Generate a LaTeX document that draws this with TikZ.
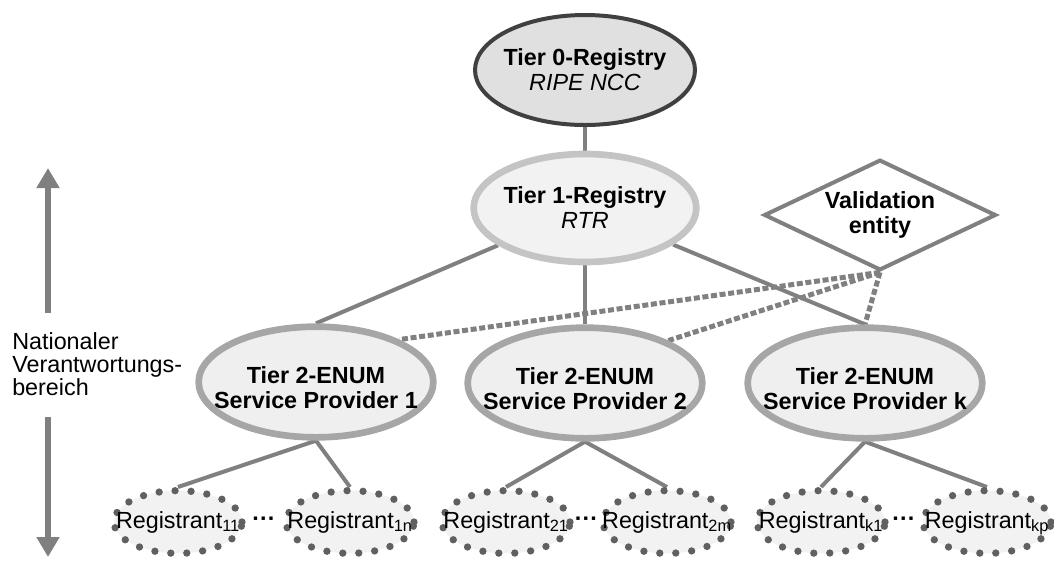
\documentclass[tikz,border=0pt]{standalone}
\usepackage{fontspec}
\setmainfont{Liberation Sans}
\usetikzlibrary{shapes.geometric,arrows.meta,calc,backgrounds}
\definecolor{conncol}{HTML}{808080}
\definecolor{tzeroborder}{HTML}{404040}
\definecolor{tzerofill}{HTML}{E0E0E0}
\definecolor{toneborder}{HTML}{C4C4C4}
\definecolor{tonefill}{HTML}{F2F2F2}
\definecolor{spborder}{HTML}{A6A6A6}
\definecolor{spfill}{HTML}{EFEFEF}
\definecolor{regdot}{HTML}{606060}
\definecolor{regfill}{HTML}{F2F2F2}
\begin{document}
\begin{tikzpicture}[x=0.75pt,y=-0.75pt,
  txt/.style={font=\fontsize{17.5}{18.75}\selectfont, align=center, inner sep=0pt},
  regtxt/.style={font=\fontsize{17.5}{18.75}\selectfont, inner sep=0pt, text height=13pt, text depth=4pt},
  base/.style={ellipse, inner sep=0pt},
  tierzero/.style={base, draw=tzeroborder, fill=tzerofill, line width=3pt, minimum width=165pt, minimum height=82.5pt},
  tierone/.style={base, draw=toneborder, fill=tonefill, line width=5pt, minimum width=167pt, minimum height=81pt},
  spnode/.style={base, draw=spborder, fill=spfill, line width=5pt, minimum width=176pt, minimum height=83pt},
  regnode/.style={base, draw=regdot, fill=regfill, line width=5.5pt, line cap=round, dash pattern=on 0pt off 12pt, minimum width=96pt, minimum height=47pt},
  valnode/.style={diamond, draw=conncol, fill=white, line width=3pt, inner sep=0pt, minimum width=174pt, minimum height=83pt},
  link/.style={draw=conncol, line width=3pt},
  dashlink/.style={draw=conncol, line width=3.75pt, dash pattern=on 4.5pt off 2pt},
  arrowline/.style={draw=conncol, line width=4.5pt, -{Triangle[width=16.5pt,length=15pt]}},
  dotsep/.style={font=\bfseries\fontsize{17.5}{18}\selectfont, inner sep=0pt, text=black},
  ]
\useasboundingbox (0,0) rectangle (1054,562);

% nodes
\node[tierzero, label={[txt]center:{\textbf{Tier 0-Registry}\\\textit{RIPE NCC}}}] (t0) at (585,70) {};
\node[tierone, label={[txt]center:{\textbf{Tier 1-Registry}\\\textit{RTR}}}] (t1) at (585,208) {};
\node[valnode, label={[txt]center:{\textbf{Validation}\\\textbf{entity}}}] (val) at (880,215) {};

\node[spnode, label={[txt,yshift=-4pt]center:{\textbf{Tier 2-ENUM}\\\textbf{Service Provider 1}}}] (sp1) at (316,382) {};
\node[spnode, label={[txt,yshift=-4pt]center:{\textbf{Tier 2-ENUM}\\\textbf{Service Provider 2}}}] (sp2) at (585,383) {};
\node[spnode, label={[txt,yshift=-4pt]center:{\textbf{Tier 2-ENUM}\\\textbf{Service Provider k}}}] (spk) at (865,383) {};

\node[regnode, label={[regtxt]center:{Registrant\textsubscript{11}}}] (r11) at (178,522) {};
\node[regnode, label={[regtxt]center:{Registrant\textsubscript{1n}}}] (r1n) at (350,522) {};
\node[regnode, label={[regtxt]center:{Registrant\textsubscript{21}}}] (r21) at (506,522) {};
\node[regnode, label={[regtxt]center:{Registrant\textsubscript{2m}}}] (r2m) at (667,522) {};
\node[regnode, label={[regtxt]center:{Registrant\textsubscript{k1}}}] (rk1) at (821,522) {};
\node[regnode, label={[regtxt]center:{Registrant\textsubscript{kp}}}] (rkp) at (987,522) {};

\node[dotsep] (d1) at ($(r11)!0.5!(r1n)$) {···};
\node[dotsep] (d2) at ($(r21)!0.5!(r2m)$) {···};
\node[dotsep] (d3) at ($(rk1)!0.5!(rkp)$) {···};

% side label and arrows
\node[font=\fontsize{17.5}{17}\selectfont, align=left, anchor=west, inner sep=0pt] (side) at (12,364) {Nationaler\\Verantwortungs-\\bereich};
\coordinate (aus) at (48,313);
\coordinate (aue) at (48,168);
\coordinate (ads) at (48,417);
\coordinate (ade) at (48,557);
\draw[arrowline] (aus) -- (aue);
\draw[arrowline] (ads) -- (ade);

% connectors
\begin{scope}[on background layer]
\draw[link] (t0) -- (t1);
\draw[link] (t1) -- (sp1.north);
\draw[link] (t1) -- (sp2.north);
\draw[link] (t1) -- (spk.north);
\draw[link] (sp1.south) -- (r11.north);
\draw[link] (sp1.south) -- (r1n.north);
\draw[link] (sp2.south) -- (r21.north);
\draw[link] (sp2.south) -- (r2m.north);
\draw[link] (spk.south) -- (rk1.north);
\draw[link] (spk.south) -- (rkp.north);
\draw[dashlink] (val.south) -- (sp1.27);
\draw[dashlink] (val.south) -- (sp2.27);
\draw[dashlink] (val.south) -- (spk.north);
\end{scope}
\end{tikzpicture}
\end{document}
